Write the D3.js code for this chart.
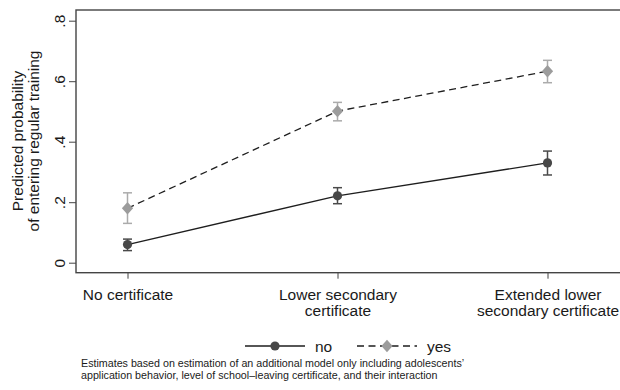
<!DOCTYPE html>
<html>
<head>
<meta charset="utf-8">
<script src="https://cdn.jsdelivr.net/npm/d3@7"></script>
<style>
  html, body { margin: 0; padding: 0; background: #fff; }
  svg { display: block; font-family: "Liberation Sans", Arial, sans-serif; }
</style>
</head>
<body>
<svg id="chart" width="620" height="390"></svg>
<script>
// Certificate levels on the x axis (multi-line labels)
const categories = ["No certificate", "Lower secondary certificate", "Extended lower secondary certificate"];
const categoryLines = [["No certificate"], ["Lower secondary", "certificate"], ["Extended lower", "secondary certificate"]];

// Predicted probabilities with confidence bounds
const noEstimate = [0.06, 0.221, 0.330];
const noLower    = [0.040, 0.195, 0.290];
const noUpper    = [0.078, 0.248, 0.369];

const yesEstimate = [0.18, 0.501, 0.633];
const yesLower    = [0.130, 0.469, 0.595];
const yesUpper    = [0.231, 0.530, 0.669];

const yTicks = [0, 0.2, 0.4, 0.6, 0.8];
const yTickLabels = ["0", ".2", ".4", ".6", ".8"];
const legendLabels = ["no", "yes"];
const noteLines = [
  "Estimates based on estimation of an additional model only including adolescents\u2019",
  "application behavior, level of school\u2013leaving certificate, and their interaction"
];

const svg = d3.select("#chart");
const frame = { left: 76, top: 10, right: 626, bottom: 272.7 };

const x = d3.scalePoint().domain(categories).range([127.5, 547.5]);
const y = d3.scaleLinear().domain([0, 0.8]).range([262.7, 20.7]);

const series = [
  { name: legendLabels[0], est: noEstimate, lo: noLower, hi: noUpper,
    line: "#1e1e1e", dash: null, marker: "circle", fill: "#474747", bar: "#4a4a4a" },
  { name: legendLabels[1], est: yesEstimate, lo: yesLower, hi: yesUpper,
    line: "#1e1e1e", dash: "7,4.5", marker: "diamond", fill: "#9c9c9c", bar: "#ababab" }
];

// Plot frame
svg.append("rect")
  .attr("x", frame.left).attr("y", frame.top)
  .attr("width", frame.right - frame.left).attr("height", frame.bottom - frame.top)
  .attr("fill", "none").attr("stroke", "#444").attr("stroke-width", 1.4);

// Y axis
const yAxis = svg.append("g").attr("transform", `translate(${frame.left},0)`)
  .call(d3.axisLeft(y).tickValues(yTicks).tickFormat((d, i) => yTickLabels[i]).tickSize(7).tickPadding(3));
yAxis.select(".domain").remove();
yAxis.selectAll(".tick line").attr("stroke", "#444").attr("stroke-width", 1);
yAxis.selectAll(".tick text")
  .attr("font-size", 15.5).attr("fill", "#1a1a1a")
  .attr("text-anchor", "middle")
  .attr("x", null).attr("dy", null)
  .attr("transform", "translate(-11,0) rotate(-90)");

// X axis
const xAxis = svg.append("g").attr("transform", `translate(0,${frame.bottom})`)
  .call(d3.axisBottom(x).tickSize(6).tickFormat(""));
xAxis.select(".domain").remove();
xAxis.selectAll(".tick line").attr("stroke", "#444").attr("stroke-width", 1);
xAxis.selectAll(".tick").each(function(d, i) {
  const t = d3.select(this).append("text")
    .attr("text-anchor", "middle").attr("font-size", 15.5).attr("fill", "#1a1a1a");
  categoryLines[i].forEach((ln, j) => {
    t.append("tspan").attr("x", 0).attr("y", 27.5 + j * 16).text(ln);
  });
});

// Y axis title
const yt = svg.append("text")
  .attr("transform", "translate(0,141) rotate(-90)")
  .attr("text-anchor", "middle").attr("font-size", 15.5).attr("fill", "#1a1a1a");
yt.append("tspan").attr("x", 0).attr("y", 23).text("Predicted probability");
yt.append("tspan").attr("x", 0).attr("y", 39).text("of entering regular training");

// Square-proportioned diamond marker
const diamondPath = (hw, hh) => `M0,${-hh}L${hw},0L0,${hh}L${-hw},0Z`;

function drawMarker(g, s, cx, cy) {
  if (s.marker === "circle") {
    g.append("circle").attr("cx", cx).attr("cy", cy).attr("r", 4.6).attr("fill", s.fill);
  } else {
    g.append("path").attr("d", diamondPath(5.6, 6.2)).attr("transform", `translate(${cx},${cy})`).attr("fill", s.fill);
  }
}

// Lines, error bars and markers
series.forEach(s => {
  const g = svg.append("g");
  const line = d3.line().x((d, i) => x(categories[i])).y(d => y(d));
  g.append("path").datum(s.est).attr("d", line)
    .attr("fill", "none").attr("stroke", s.line).attr("stroke-width", 1.3)
    .attr("stroke-dasharray", s.dash);
  categories.forEach((c, i) => {
    const cx = x(c);
    g.append("line").attr("x1", cx).attr("x2", cx).attr("y1", y(s.lo[i])).attr("y2", y(s.hi[i]))
      .attr("stroke", s.bar).attr("stroke-width", 1.5);
    [s.lo[i], s.hi[i]].forEach(v => {
      g.append("line").attr("x1", cx - 4.5).attr("x2", cx + 4.5).attr("y1", y(v)).attr("y2", y(v))
        .attr("stroke", s.bar).attr("stroke-width", 1.5);
    });
    drawMarker(g, s, cx, y(s.est[i]));
  });
});

// Legend
const legendY = 346;
const legendX = [245, 357];
series.forEach((s, i) => {
  const g = svg.append("g");
  const x0 = legendX[i];
  g.append("line").attr("x1", x0).attr("x2", x0 + 60).attr("y1", legendY).attr("y2", legendY)
    .attr("stroke", s.line).attr("stroke-width", 1.3).attr("stroke-dasharray", s.dash);
  drawMarker(g, s, x0 + 30, legendY);
  g.append("text").attr("x", x0 + 70).attr("y", legendY + 5.5)
    .attr("font-size", 15.5).attr("fill", "#1a1a1a").text(s.name);
});

// Note
const note = svg.append("text").attr("font-size", 10.7).attr("fill", "#1a1a1a");
noteLines.forEach((ln, j) => {
  note.append("tspan").attr("x", 81).attr("y", 367 + j * 11.5).text(ln);
});
</script>
</body>
</html>
